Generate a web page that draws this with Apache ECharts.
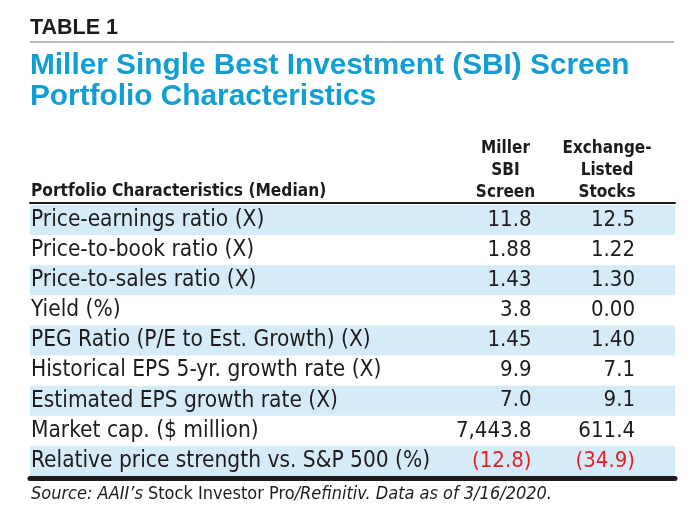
<!DOCTYPE html>
<html><head><meta charset="utf-8">
<script src="https://cdn.jsdelivr.net/npm/echarts@6/dist/echarts.min.js"></script>
<style>html,body{margin:0;padding:0;background:#fff}#c{width:700px;height:525px}</style>
</head><body><div id="c"></div>
<script>
// ---- data ----
const tableLabel = 'TABLE 1';
const titleText = 'Miller Single Best Investment (SBI) Screen\nPortfolio Characteristics';
const headerRowLabel = 'Portfolio Characteristics (Median)';
const columnHeaders = ['Miller\nSBI\nScreen', 'Exchange-\nListed\nStocks'];
const rowLabels = [
  'Price-earnings ratio (X)',
  'Price-to-book ratio (X)',
  'Price-to-sales ratio (X)',
  'Yield (%)',
  'PEG Ratio (P/E to Est. Growth) (X)',
  'Historical EPS 5-yr. growth rate (X)',
  'Estimated EPS growth rate (X)',
  'Market cap. ($ million)',
  'Relative price strength vs. S&P 500 (%)'
];
const millerValues = ['11.8', '1.88', '1.43', '3.8', '1.45', '9.9', '7.0', '7,443.8', '(12.8)'];
const exchangeValues = ['12.5', '1.22', '1.30', '0.00', '1.40', '7.1', '9.1', '611.4', '(34.9)'];
const sourceParts = ['Source: AAII\u2019s', ' Stock Investor Pro', '/Refinitiv. Data as of 3/16/2020.'];

// ---- layout / style ----
const FONT = "'DejaVu Sans Condensed', 'Liberation Sans', sans-serif";
const INK = '#1f1b1c';
const BLUE = '#119fd3';
const STRIPE = '#d5ebf7';
const RED = '#e8202a';
const X_MAX = 645;            // table width in axis units
const COL_RIGHT = [501.5, 605]; // right edges of value columns (axis units)
const HEAD_CENTER = [505.5, 607];

function valueSeries(values, colX) {
  return {
    type: 'scatter', symbolSize: 0, silent: true, xAxisIndex: 0, z: 5,
    itemStyle: { opacity: 1 },
    data: values.map((v, i) => ({
      value: [colX, rowLabels[i]],
      label: { color: v.startsWith('(') ? RED : INK }
    })),
    label: {
      show: true, position: 'left', distance: 0,
      fontFamily: FONT, fontSize: 22,
      formatter: p => values[p.dataIndex]
    }
  };
}

const chart = echarts.init(document.getElementById('c'), null, { renderer: 'canvas' });
chart.setOption({
  animation: false,
  backgroundColor: '#fff',
  title: [
    { text: tableLabel, left: 30, top: 18, padding: 0,
      textStyle: { fontFamily: "'Liberation Sans', Arial, sans-serif", fontWeight: 'bold', fontSize: 21.5, lineHeight: 21, color: INK } },
    { text: titleText, left: 30, top: 50, padding: 0,
      textStyle: { fontFamily: "'Liberation Sans', Arial, sans-serif", fontWeight: 'bold', fontSize: 29.8, lineHeight: 31.5, color: BLUE } },
    { text: headerRowLabel, left: 31, top: 182, padding: 0,
      textStyle: { fontFamily: FONT, fontWeight: 'bold', fontSize: 17.2, lineHeight: 20, color: INK } },
    { text: columnHeaders[0], left: HEAD_CENTER[0], top: 137, padding: 0, textAlign: 'center',
      textStyle: { fontFamily: FONT, fontWeight: 'bold', fontSize: 17, lineHeight: 22.3, color: INK } },
    { text: columnHeaders[1], left: HEAD_CENTER[1], top: 137, padding: 0, textAlign: 'center',
      textStyle: { fontFamily: FONT, fontWeight: 'bold', fontSize: 17, lineHeight: 22.3, color: INK } },
    { text: '{i|' + sourceParts[0] + '}{n|' + sourceParts[1] + '}{i|' + sourceParts[2] + '}',
      left: 31, top: 485, padding: 0,
      textStyle: { fontFamily: FONT, fontSize: 18, fontWeight: 'normal', color: INK,
        rich: {
          i: { fontFamily: FONT, fontSize: 18, fontStyle: 'italic', fontWeight: 'normal', color: INK },
          n: { fontFamily: FONT, fontSize: 18, fontStyle: 'normal', fontWeight: 'normal', color: INK }
        } } }
  ],
  graphic: [
    { type: 'line', shape: { x1: 30, y1: 42, x2: 674, y2: 42 },
      style: { stroke: '#a3a3a3', lineWidth: 1.5 }, silent: true }
  ],
  grid: { left: 30, right: 25, top: 205, bottom: 49, containLabel: false },
  xAxis: [
    { type: 'value', position: 'top', min: 0, max: X_MAX, offset: 2,
      axisLine: { show: true, onZero: false, lineStyle: { color: INK, width: 2 } },
      axisTick: { show: false }, axisLabel: { show: false }, splitLine: { show: false } },
    { type: 'value', position: 'bottom', min: 0, max: X_MAX, offset: 2.5,
      axisLine: { show: true, onZero: false, lineStyle: { color: INK, width: 5 } },
      axisTick: { show: false }, axisLabel: { show: false }, splitLine: { show: false } }
  ],
  yAxis: {
    type: 'category', data: rowLabels, inverse: true, z: 6,
    axisLine: { show: false }, axisTick: { show: false }, splitLine: { show: false },
    axisLabel: { inside: true, margin: 1, fontFamily: FONT, fontSize: 22.5, color: INK }
  },
  series: [
    { type: 'bar', silent: true, xAxisIndex: 0, barWidth: '100%', z: 1,
      itemStyle: { color: STRIPE },
      data: rowLabels.map((r, i) => i % 2 === 0 ? X_MAX : 0) },
    valueSeries(millerValues, COL_RIGHT[0]),
    valueSeries(exchangeValues, COL_RIGHT[1])
  ]
});
</script></body></html>
